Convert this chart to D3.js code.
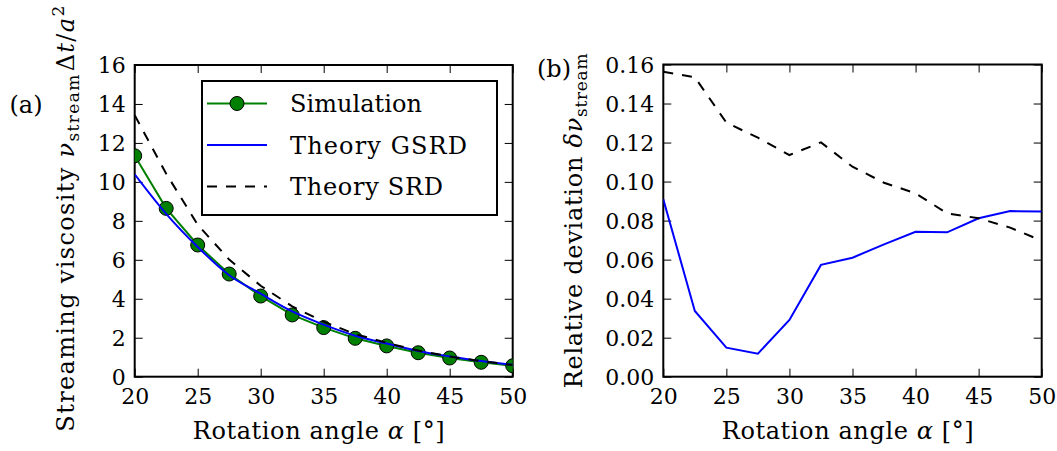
<!DOCTYPE html>
<html>
<head>
<meta charset="utf-8">
<script src="https://cdn.jsdelivr.net/npm/d3@7"></script>
<style>
  html, body { margin: 0; padding: 0; background: #fff; }
  svg { display: block; }
</style>
</head>
<body>
<svg id="chart" width="1057" height="451" font-family="DejaVu Serif"></svg>
<script>
// ---------------- data ----------------
const alpha = [20, 22.5, 25, 27.5, 30, 32.5, 35, 37.5, 40, 42.5, 45, 47.5, 50];
const simViscosity  = [11.34, 8.64, 6.76, 5.27, 4.14, 3.17, 2.52, 1.97, 1.58, 1.23, 0.96, 0.74, 0.56];
const gsrdViscosity = [10.39, 8.36, 6.66, 5.21, 4.26, 3.35, 2.67, 2.10, 1.70, 1.32, 1.04, 0.80, 0.61];
const srdViscosity  = [13.42, 10.42, 7.80, 6.01, 4.67, 3.61, 2.82, 2.19, 1.74, 1.34, 1.04, 0.80, 0.60];
const gsrdDeviation = [0.0909, 0.0337, 0.0149, 0.0118, 0.0291, 0.0573, 0.0610, 0.0678, 0.0743, 0.0740, 0.0812, 0.0849, 0.0846];
const srdDeviation  = [0.1563, 0.1535, 0.1302, 0.1225, 0.1136, 0.1201, 0.1076, 0.0994, 0.0940, 0.0837, 0.0812, 0.0764, 0.0697];
const xTicks = [20, 25, 30, 35, 40, 45, 50];
const yTicksA = [0, 2, 4, 6, 8, 10, 12, 14, 16];
const yTicksB = [0, 0.02, 0.04, 0.06, 0.08, 0.10, 0.12, 0.14, 0.16];
const legendLabels = ["Simulation", "Theory GSRD", "Theory SRD"];

// ---------------- layout ----------------
const FONT = "DejaVu Serif";
const FS_TICK = 22, FS_LABEL = 24, FS_SUB = 17;
const svg = d3.select("#chart");

const panels = [
  { id: "a", left: 134.7, right: 512.7, top: 65, bottom: 376.7, yDomain: [0, 16], yTicks: yTicksA, yFmt: d3.format("d") },
  { id: "b", left: 663.3, right: 1041.7, top: 64.5, bottom: 376.7, yDomain: [0, 0.16], yTicks: yTicksB, yFmt: d3.format(".2f") }
];
const TICK = 8;

panels.forEach(p => {
  p.x = d3.scaleLinear().domain([20, 50]).range([p.left, p.right]);
  p.y = d3.scaleLinear().domain(p.yDomain).range([p.bottom, p.top]);
  svg.append("clipPath").attr("id", "clip-" + p.id)
    .append("rect").attr("x", p.left).attr("y", p.top)
    .attr("width", p.right - p.left).attr("height", p.bottom - p.top);
  p.g = svg.append("g").attr("font-family", FONT);
  p.plot = svg.append("g").attr("clip-path", `url(#clip-${p.id})`);
});

function txt(sel, size) {
  return sel.append("text").attr("font-family", FONT).attr("font-size", size).attr("fill", "#000");
}
function span(t, s, opts = {}) {
  const e = t.append("tspan").attr("font-family", FONT).text(s);
  if (opts.italic) e.attr("font-style", "italic");
  if (opts.size) e.attr("font-size", opts.size);
  if (opts.dy !== undefined) e.attr("dy", opts.dy);
  if (opts.dx !== undefined) e.attr("dx", opts.dx);
  return e;
}
function fitWidth(t, target) {
  const node = t.node();
  const w = node.getComputedTextLength();
  const n = node.textContent.length;
  const ls = (target - w) / Math.max(1, n - 1);
  t.attr("letter-spacing", ls.toFixed(2));
}

function drawAxes(p) {
  const g = p.g;
  const bx = g.append("g").attr("transform", `translate(0,${p.bottom})`)
    .call(d3.axisBottom(p.x).tickValues(xTicks).tickFormat(d3.format("d"))
      .tickSizeInner(-TICK).tickSizeOuter(0).tickPadding(9));
  const tx = g.append("g").attr("transform", `translate(0,${p.top})`)
    .call(d3.axisTop(p.x).tickValues(xTicks).tickFormat("")
      .tickSizeInner(-TICK).tickSizeOuter(0));
  const ly = g.append("g").attr("transform", `translate(${p.left},0)`)
    .call(d3.axisLeft(p.y).tickValues(p.yTicks).tickFormat(p.yFmt)
      .tickSizeInner(-TICK).tickSizeOuter(0).tickPadding(9));
  const ry = g.append("g").attr("transform", `translate(${p.right},0)`)
    .call(d3.axisRight(p.y).tickValues(p.yTicks).tickFormat("")
      .tickSizeInner(-TICK).tickSizeOuter(0));
  [bx, tx, ly, ry].forEach(a => {
    a.attr("font-family", FONT).attr("font-size", FS_TICK);
    a.select(".domain").remove();
    a.selectAll(".tick line").attr("stroke", "#000").attr("stroke-width", 1);
    a.selectAll("text").attr("font-family", FONT).attr("font-size", FS_TICK).attr("fill", "#000");
  });
  ly.selectAll("text").attr("dy", "0.36em");
  bx.selectAll("text").attr("dy", null).attr("y", 27);
}

function drawFrame(p) {
  p.g.append("rect").attr("x", p.left).attr("y", p.top)
    .attr("width", p.right - p.left).attr("height", p.bottom - p.top)
    .attr("fill", "none").attr("stroke", "#000").attr("stroke-width", 2);
}

function xLabel(p, cx) {
  const t = txt(p.g, FS_LABEL).attr("x", cx).attr("y", 439).attr("text-anchor", "middle");
  span(t, "Rotation angle ");
  span(t, "α", { italic: true });
  span(t, " [°]");
  fitWidth(t, 252);
}

const pa = panels[0], pb = panels[1];
const idx = d3.range(alpha.length);

// ----- Panel (a) -----
drawAxes(pa);
const lineA = arr => d3.line().x(i => pa.x(alpha[i])).y(i => pa.y(arr[i]));

pa.plot.append("path").datum(idx).attr("d", lineA(simViscosity))
  .attr("fill", "none").attr("stroke", "#008000").attr("stroke-width", 2);
pa.plot.selectAll("circle.sim").data(idx).enter().append("circle")
  .attr("class", "sim")
  .attr("cx", i => pa.x(alpha[i])).attr("cy", i => pa.y(simViscosity[i]))
  .attr("r", 7).attr("fill", "#008000").attr("stroke", "#000").attr("stroke-width", 1);
pa.plot.append("path").datum(idx).attr("d", lineA(gsrdViscosity).curve(d3.curveMonotoneX))
  .attr("fill", "none").attr("stroke", "#0000ff").attr("stroke-width", 2);
pa.plot.append("path").datum(idx).attr("d", lineA(srdViscosity))
  .attr("fill", "none").attr("stroke", "#000").attr("stroke-width", 2)
  .attr("stroke-dasharray", "10,9");

drawFrame(pa);
xLabel(pa, 319);

{
  const t = txt(pa.g, FS_LABEL).attr("transform", `translate(74,218) rotate(-90)`)
    .attr("text-anchor", "middle");
  span(t, "Streaming viscosity ");
  span(t, "ν", { italic: true });
  span(t, "stream", { size: FS_SUB, dy: 5 });
  span(t, "Δ", { dy: -5, dx: 2 });
  span(t, "t", { italic: true });
  span(t, "/");
  span(t, "a", { italic: true });
  span(t, "2", { size: FS_SUB, dy: -10 });
  fitWidth(t, 424);
}

txt(svg, FS_LABEL).attr("x", 26).attr("y", 113).attr("text-anchor", "middle").text("(a)");

// legend
{
  const lg = pa.g.append("g");
  lg.append("rect").attr("x", 202).attr("y", 81).attr("width", 295).attr("height", 134)
    .attr("fill", "#fff").attr("stroke", "#000").attr("stroke-width", 2);
  const rows = [103.5, 145, 186.5];
  const x0 = 207, x1 = 267, tx = 290;
  lg.append("line").attr("x1", x0).attr("x2", x1).attr("y1", rows[0]).attr("y2", rows[0])
    .attr("stroke", "#008000").attr("stroke-width", 2);
  lg.append("circle").attr("cx", (x0 + x1) / 2).attr("cy", rows[0]).attr("r", 7)
    .attr("fill", "#008000").attr("stroke", "#000").attr("stroke-width", 1);
  lg.append("line").attr("x1", x0).attr("x2", x1).attr("y1", rows[1]).attr("y2", rows[1])
    .attr("stroke", "#0000ff").attr("stroke-width", 2);
  lg.append("line").attr("x1", x0).attr("x2", x1).attr("y1", rows[2]).attr("y2", rows[2])
    .attr("stroke", "#000").attr("stroke-width", 2).attr("stroke-dasharray", "10,9");
  const widths = [132, 177, 153];
  legendLabels.forEach((lab, i) => {
    const t = txt(lg, FS_LABEL).attr("x", tx).attr("y", rows[i]).attr("dy", "0.36em").text(lab);
    fitWidth(t, widths[i]);
  });
}

// ----- Panel (b) -----
drawAxes(pb);
const lineB = arr => d3.line().x(i => pb.x(alpha[i])).y(i => pb.y(arr[i]));
pb.plot.append("path").datum(idx).attr("d", lineB(gsrdDeviation))
  .attr("fill", "none").attr("stroke", "#0000ff").attr("stroke-width", 2);
pb.plot.append("path").datum(idx).attr("d", lineB(srdDeviation))
  .attr("fill", "none").attr("stroke", "#000").attr("stroke-width", 2)
  .attr("stroke-dasharray", "10,9");
drawFrame(pb);
xLabel(pb, 848);

{
  const t = txt(pb.g, FS_LABEL).attr("transform", `translate(582,220.5) rotate(-90)`)
    .attr("text-anchor", "middle");
  span(t, "Relative deviation ");
  span(t, "δν", { italic: true });
  span(t, "stream", { size: FS_SUB, dy: 5 });
  fitWidth(t, 335);
}
txt(svg, FS_LABEL).attr("x", 554).attr("y", 77).attr("text-anchor", "middle").text("(b)");
</script>
</body>
</html>
